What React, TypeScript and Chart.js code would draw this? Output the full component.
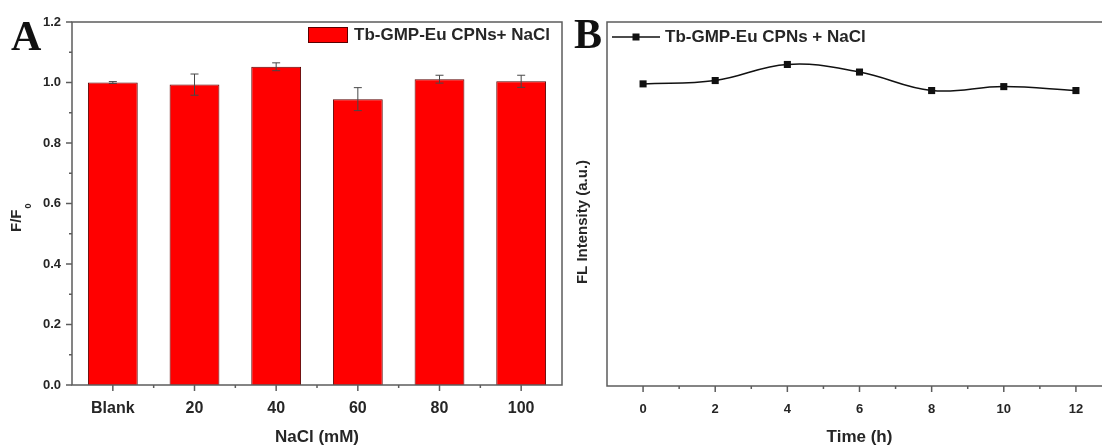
import React, { useEffect, useRef } from "react";
import { Chart, registerables } from "chart.js";
Chart.register(...registerables);

// ---------- data ----------
const nacl_categories = ["Blank", "20", "40", "60", "80", "100"];
const ratio_values = [1.0, 0.993, 1.052, 0.945, 1.011, 1.004];
const ratio_errors = [0.003, 0.035, 0.013, 0.038, 0.013, 0.02];
const ratio_ticks = [0, 0.2, 0.4, 0.6, 0.8, 1.0, 1.2];

const time_hours = [0, 2, 4, 6, 8, 10, 12];
const fl_values = [0.996, 1.007, 1.06, 1.035, 0.974, 0.987, 0.974];
const time_minor_ticks = [1, 3, 5, 7, 9, 11];

const label_a = "Tb-GMP-Eu CPNs+ NaCl";
const label_b = "Tb-GMP-Eu CPNs + NaCl";
const x_title_a = "NaCl (mM)";
const x_title_b = "Time (h)";
const y_title_b = "FL Intensity (a.u.)";

// ---------- styles ----------
const FONT = '"Liberation Sans", Arial, Helvetica, sans-serif';
const SERIF = '"Liberation Serif", "Times New Roman", serif';
const AXIS = "#5c5c5c";
const TEXT = "#262626";

function line(ctx: CanvasRenderingContext2D, x1: number, y1: number, x2: number, y2: number) {
  ctx.beginPath();
  ctx.moveTo(x1, y1);
  ctx.lineTo(x2, y2);
  ctx.stroke();
}

function frame(chart: any) {
  const { ctx, chartArea: a } = chart;
  ctx.save();
  ctx.strokeStyle = AXIS;
  ctx.lineWidth = 1.5;
  ctx.strokeRect(a.left, a.top, a.right - a.left, a.bottom - a.top);
  ctx.restore();
}

const panelA = {
  id: "panelA",
  afterDatasetsDraw(chart: any) {
    const { ctx } = chart;
    const xs = chart.scales.x;
    const ys = chart.scales.y;
    ctx.save();
    ctx.strokeStyle = "#484848";
    ctx.lineWidth = 1;
    ratio_values.forEach((v, i) => {
      const e = ratio_errors[i];
      const px = xs.getPixelForValue(i);
      const yt = ys.getPixelForValue(v + e);
      const yb = ys.getPixelForValue(v - e);
      line(ctx, px, yt, px, yb);
      line(ctx, px - 4, yt, px + 4, yt);
      line(ctx, px - 4, yb, px + 4, yb);
    });
    ctx.restore();
  },
  afterDraw(chart: any) {
    const { ctx, chartArea: a } = chart;
    const xs = chart.scales.x;
    const ys = chart.scales.y;
    frame(chart);
    ctx.save();
    ctx.strokeStyle = AXIS;
    ctx.lineWidth = 1.5;
    ratio_ticks.forEach((v, i) => {
      const py = ys.getPixelForValue(v);
      line(ctx, a.left - 6, py, a.left, py);
      if (i < ratio_ticks.length - 1) {
        const pm = ys.getPixelForValue((v + ratio_ticks[i + 1]) / 2);
        line(ctx, a.left - 3, pm, a.left, pm);
      }
    });
    nacl_categories.forEach((_, i) => {
      const px = xs.getPixelForValue(i);
      line(ctx, px, a.bottom, px, a.bottom + 6);
      if (i < nacl_categories.length - 1) {
        const pm = (px + xs.getPixelForValue(i + 1)) / 2;
        line(ctx, pm, a.bottom, pm, a.bottom + 3);
      }
    });
    // x title
    ctx.fillStyle = TEXT;
    ctx.font = `bold 17px ${FONT}`;
    ctx.textAlign = "center";
    ctx.textBaseline = "middle";
    ctx.fillText(x_title_a, (a.left + a.right) / 2, 437);
    // y title F/F0
    ctx.save();
    ctx.translate(21, 232);
    ctx.rotate(-Math.PI / 2);
    ctx.textAlign = "left";
    ctx.textBaseline = "alphabetic";
    ctx.font = `bold 15px ${FONT}`;
    ctx.fillText("F/F", 0, 0);
    const w = ctx.measureText("F/F").width;
    ctx.font = `bold 9px ${FONT}`;
    ctx.fillText("0", w + 1, 10);
    ctx.restore();
    // legend
    ctx.fillStyle = "#ff0000";
    ctx.strokeStyle = "#5a0000";
    ctx.lineWidth = 1;
    ctx.fillRect(308, 27, 40, 16);
    ctx.strokeRect(308.5, 27.5, 39, 15);
    ctx.fillStyle = TEXT;
    ctx.font = `bold 17px ${FONT}`;
    ctx.textAlign = "left";
    ctx.textBaseline = "middle";
    ctx.fillText(label_a, 354, 35);
    // panel letter
    ctx.fillStyle = "#111";
    ctx.font = `bold 42px ${SERIF}`;
    ctx.textBaseline = "alphabetic";
    ctx.fillText("A", 11, 50);
    ctx.restore();
  },
};

const panelB = {
  id: "panelB",
  afterDraw(chart: any) {
    const { ctx, chartArea: a } = chart;
    const xs = chart.scales.x;
    frame(chart);
    ctx.save();
    ctx.strokeStyle = AXIS;
    ctx.lineWidth = 1.5;
    time_hours.forEach((t) => {
      const px = xs.getPixelForValue(t);
      line(ctx, px, a.bottom, px, a.bottom + 6);
    });
    time_minor_ticks.forEach((t) => {
      const px = xs.getPixelForValue(t);
      line(ctx, px, a.bottom, px, a.bottom + 3);
    });
    ctx.fillStyle = TEXT;
    ctx.font = `bold 17px ${FONT}`;
    ctx.textAlign = "center";
    ctx.textBaseline = "middle";
    ctx.fillText(x_title_b, (a.left + a.right) / 2, 437);
    // y title
    ctx.save();
    ctx.translate(21, 222);
    ctx.rotate(-Math.PI / 2);
    ctx.textAlign = "center";
    ctx.textBaseline = "alphabetic";
    ctx.font = `bold 15px ${FONT}`;
    ctx.fillText(y_title_b, 0, 0);
    ctx.restore();
    // legend
    ctx.strokeStyle = "#111";
    ctx.lineWidth = 1.5;
    line(ctx, 46, 37, 94, 37);
    ctx.fillStyle = "#111";
    ctx.fillRect(66.5, 33.5, 7, 7);
    ctx.fillStyle = TEXT;
    ctx.font = `bold 17px ${FONT}`;
    ctx.textAlign = "left";
    ctx.textBaseline = "middle";
    ctx.fillText(label_b, 99, 37);
    // panel letter
    ctx.fillStyle = "#111";
    ctx.font = `bold 42px ${SERIF}`;
    ctx.textBaseline = "alphabetic";
    ctx.fillText("B", 8, 48);
    ctx.restore();
  },
};

export default function App() {
  const aRef = useRef<HTMLCanvasElement>(null);
  const bRef = useRef<HTMLCanvasElement>(null);

  useEffect(() => {
    const chartA = new Chart(aRef.current as HTMLCanvasElement, {
      type: "bar",
      data: {
        labels: nacl_categories,
        datasets: [
          {
            label: label_a,
            data: ratio_values,
            backgroundColor: "#ff0000",
            borderColor: "#5a0000",
            borderWidth: 1,
            barPercentage: 0.61,
            categoryPercentage: 1,
          },
        ],
      },
      options: {
        responsive: false,
        animation: false,
        devicePixelRatio: 1,
        layout: { padding: { top: 22, right: 4, bottom: 0, left: 0 } },
        plugins: { legend: { display: false }, tooltip: { enabled: false } },
        scales: {
          x: {
            type: "category",
            offset: true,
            grid: { display: false, drawTicks: false },
            border: { display: false },
            ticks: {
              color: TEXT,
              padding: 14,
              font: { family: FONT, size: 16, weight: "bold" },
              maxRotation: 0,
            },
            afterFit: (s: any) => {
              s.height = 63;
            },
          },
          y: {
            min: 0,
            max: 1.2,
            grid: { display: false, drawTicks: false },
            border: { display: false },
            afterBuildTicks: (s: any) => {
              s.ticks = ratio_ticks.map((v) => ({ value: v }));
            },
            ticks: {
              color: TEXT,
              padding: 11,
              font: { family: FONT, size: 13, weight: "bold" },
              callback: (v: any) => Number(v).toFixed(1),
            },
            afterFit: (s: any) => {
              s.width = 72;
            },
          },
        },
      } as any,
      plugins: [panelA],
    });

    const chartB = new Chart(bRef.current as HTMLCanvasElement, {
      type: "line",
      data: {
        datasets: [
          {
            label: label_b,
            data: time_hours.map((t, i) => ({ x: t, y: fl_values[i] })),
            borderColor: "#111",
            borderWidth: 1.5,
            tension: 0.4,
            pointStyle: "rect",
            pointRadius: 5,
            pointBackgroundColor: "#111",
            pointBorderColor: "#111",
            pointBorderWidth: 0,
          },
        ],
      },
      options: {
        responsive: false,
        animation: false,
        devicePixelRatio: 1,
        layout: { padding: { top: 22, right: 54, bottom: 0, left: 41 } },
        plugins: { legend: { display: false }, tooltip: { enabled: false } },
        scales: {
          x: {
            type: "linear",
            min: -1,
            max: 13,
            grid: { display: false, drawTicks: false },
            border: { display: false },
            afterBuildTicks: (s: any) => {
              s.ticks = time_hours.map((v) => ({ value: v }));
            },
            ticks: {
              color: TEXT,
              padding: 16,
              font: { family: FONT, size: 13, weight: "bold" },
              maxRotation: 0,
            },
            afterFit: (s: any) => {
              s.height = 62;
            },
          },
          y: {
            display: false,
            min: 0,
            max: 1.2,
          },
        },
      } as any,
      plugins: [panelB],
    });

    return () => {
      chartA.destroy();
      chartB.destroy();
    };
  }, []);

  return (
    <div
      style={{
        position: "fixed",
        left: 0,
        top: 0,
        width: 1102,
        height: 448,
        overflow: "hidden",
        background: "#fff",
      }}
    >
      <canvas
        ref={aRef}
        width={566}
        height={448}
        style={{ position: "absolute", left: 0, top: 0, width: 566, height: 448 }}
      />
      <canvas
        ref={bRef}
        width={600}
        height={448}
        style={{ position: "absolute", left: 566, top: 0, width: 600, height: 448 }}
      />
    </div>
  );
}
